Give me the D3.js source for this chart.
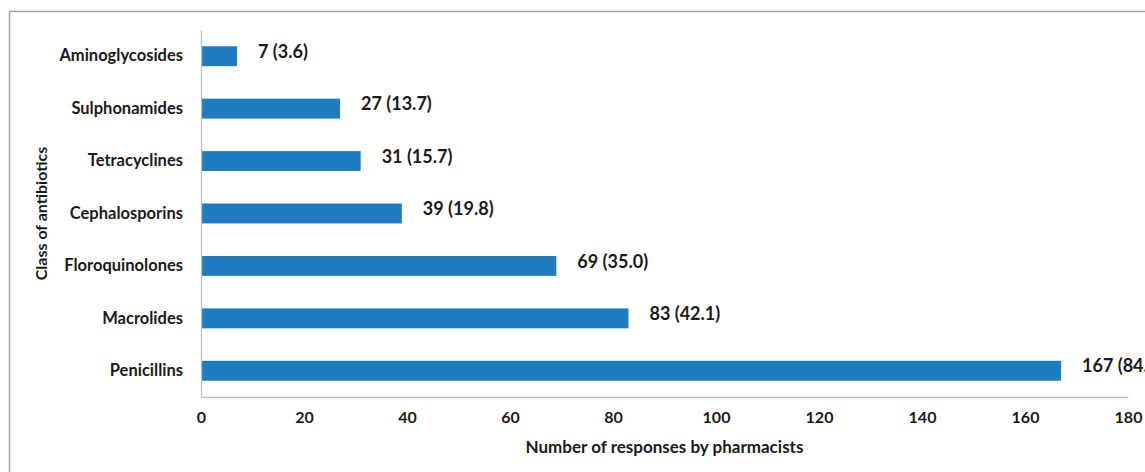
<!DOCTYPE html>
<html>
<head>
<meta charset="utf-8">
<script src="https://cdn.jsdelivr.net/npm/d3@7"></script>
<style>
  html, body { margin: 0; padding: 0; background: #fff; }
  svg { display: block; }
  text { font-family: Lato, "Open Sans", sans-serif; font-weight: bold; fill: #1a1a1a; }
</style>
</head>
<body>
<svg id="chart" width="1145" height="472"></svg>
<script>
// Antibiotic classes, top to bottom
const categories = ["Aminoglycosides", "Sulphonamides", "Tetracyclines", "Cephalosporins",
                    "Floroquinolones", "Macrolides", "Penicillins"];
// Number of responses per class
const responses = [7, 27, 31, 39, 69, 83, 167];
// Percentage of respondents per class
const percents = ["3.6", "13.7", "15.7", "19.8", "35.0", "42.1", "84.8"];
const xTicks = [0, 20, 40, 60, 80, 100, 120, 140, 160, 180];

const svg = d3.select("#chart");
const W = 1145, H = 472;
const margin = { left: 201, right: 17, top: 30, bottom: 75 };
const innerW = W - margin.left - margin.right;
const innerH = H - margin.top - margin.bottom;

// Outer chart frame
svg.append("rect")
  .attr("x", 9.5).attr("y", 11.5)
  .attr("width", 1200).attr("height", 600)
  .attr("fill", "none").attr("stroke", "#a6a6a6").attr("stroke-width", 1.5);

const g = svg.append("g").attr("transform", `translate(${margin.left},${margin.top})`);

const x = d3.scaleLinear().domain([0, 180]).range([0, innerW]);
const y = d3.scaleBand().domain(categories).range([0, innerH]).paddingInner(0.62).paddingOuter(0.31);

const data = categories.map((c, i) => ({ cat: c, val: responses[i], pct: percents[i] }));

// Bars
g.selectAll("rect.bar").data(data).join("rect")
  .attr("class", "bar")
  .attr("x", x(0))
  .attr("y", d => y(d.cat))
  .attr("width", d => x(d.val) - x(0))
  .attr("height", y.bandwidth())
  .attr("fill", "#1f7cc0");

// Value labels: count (percent)
g.selectAll("text.val").data(data).join("text")
  .attr("class", "val")
  .attr("x", d => x(d.val) + 21)
  .attr("y", d => y(d.cat) + y.bandwidth() / 2 - 3)
  .attr("dominant-baseline", "middle")
  .style("font-size", "18px")
  .text(d => `${d.val} (${d.pct})`);

// X axis
const xAxis = g.append("g").attr("transform", `translate(0,${innerH})`)
  .call(d3.axisBottom(x).tickValues(xTicks).tickSize(0).tickPadding(15));
xAxis.select(".domain").attr("stroke", "#bfbfbf").attr("stroke-width", 1.3);
xAxis.selectAll("text").style("font-size", "16px").style("font-family", "Lato, sans-serif").attr("fill", "#1a1a1a");

// Y axis
const yAxis = g.append("g")
  .call(d3.axisLeft(y).tickSize(0).tickPadding(18));
yAxis.select(".domain").attr("stroke", "#bfbfbf").attr("stroke-width", 1.3);
yAxis.selectAll("text").style("font-size", "16.5px").style("font-family", "Lato, sans-serif").attr("fill", "#1a1a1a");

// Axis titles
svg.append("text")
  .attr("x", margin.left + innerW / 2).attr("y", 453)
  .attr("text-anchor", "middle")
  .style("font-size", "17px")
  .text("Number of responses by pharmacists");

svg.append("text")
  .attr("transform", `translate(47,${margin.top + innerH / 2}) rotate(-90)`)
  .attr("text-anchor", "middle")
  .style("font-size", "16px")
  .text("Class of antibiotics");
</script>
</body>
</html>
